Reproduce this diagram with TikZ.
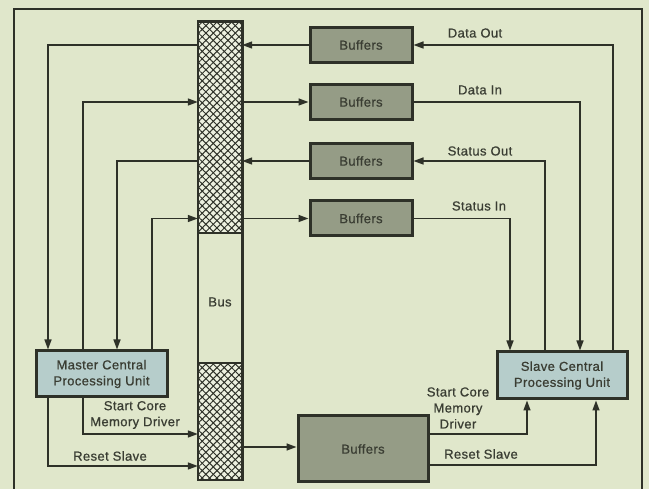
\documentclass[tikz,border=0pt]{standalone}
\usepackage{fontspec}
\setmainfont{Liberation Sans}[LetterSpace=3,FakeBold=0.8]
\usetikzlibrary{arrows.meta,patterns.meta}
\definecolor{bg}{HTML}{E0E7CB}
\definecolor{ink}{HTML}{2E3128}
\definecolor{buffill}{HTML}{959C86}
\definecolor{cpufill}{HTML}{B6CDCB}
\definecolor{busfill}{HTML}{EDF1E0}
\definecolor{txt}{HTML}{3A3D33}
\tikzset{
  txtstyle/.style={font=\fontsize{13}{16}\selectfont, text=txt, align=center, inner sep=0pt},
  bufbox/.style={draw=ink, line width=3pt, fill=buffill, minimum width=102pt, minimum height=35pt, inner sep=0pt, txtstyle},
  cpubox/.style={draw=ink, line width=3pt, fill=cpufill, inner sep=0pt, txtstyle},
  conn/.style={draw=ink, line width=1.5pt},
  arr/.style={conn, -{Triangle[length=10pt,width=7pt]}},
  hatchA/.style={pattern={Lines[angle=45,distance=5.2pt,line width=1pt]}, pattern color=ink},
  hatchB/.style={pattern={Lines[angle=-45,distance=5.2pt,line width=1pt]}, pattern color=ink},
}
\begin{document}
\begin{tikzpicture}[x=1pt,y=-1pt]
\useasboundingbox (0,0) rectangle (649,489);
\fill[bg] (0,0) rectangle (649,489);
% frame
\draw[ink, line width=1.6pt] (14,495) -- (14,9) -- (642,9) -- (642,495);
% bus
\node[minimum width=44pt, minimum height=458pt, inner sep=0pt] (bus) at (220,251) {};
\fill[busfill] (198,22) rectangle (242,233);
\fill[hatchA] (198,22) rectangle (242,233);
\fill[hatchB] (198,22) rectangle (242,233);
\fill[busfill] (198,363) rectangle (242,480);
\fill[hatchA] (198,363) rectangle (242,480);
\fill[hatchB] (198,363) rectangle (242,480);
\draw[ink, line width=2.6pt] (bus.north west) rectangle (bus.south east);
\draw[ink, line width=2.6pt] (198,233) -- (242,233) (198,363) -- (242,363);
\node[txtstyle] (buslbl) at (220,302) {Bus};
% buffers
\node[bufbox] (buf1) at (361,45) {Buffers};
\node[bufbox] (buf2) at (361,102) {Buffers};
\node[bufbox] (buf3) at (361,161) {Buffers};
\node[bufbox] (buf4) at (361,218.5) {Buffers};
\node[bufbox, minimum width=130pt, minimum height=66pt] (bufB) at (363,449) {Buffers};
% CPUs
\node[cpubox, minimum width=131pt, minimum height=46pt] (master) at (101.5,374) {Master Central\\Processing Unit};
\node[cpubox, minimum width=130pt, minimum height=47pt] (slave) at (562,375.5) {Slave Central\\Processing Unit};
% right side connectors
\draw[arr] (slave.north -| 613,0) |- (buf1.east);
\draw[arr] (buf2.east) -| (slave.north -| 580,0);
\draw[arr] (slave.north -| 545,0) |- (buf3.east);
\draw[arr] (buf4.east) -| (slave.north -| 510,0);
% left side connectors
\draw[arr] (buf1.west) -- (bus.east |- buf1.west);
\draw[arr] (bus.west |- buf1.west) -| (master.north -| 48,0);
\draw[arr] (master.north -| 83,0) |- (bus.west |- buf2.west);
\draw[arr] (bus.east |- buf2.west) -- (buf2.west);
\draw[arr] (buf3.west) -- (bus.east |- buf3.west);
\draw[arr] (bus.west |- buf3.west) -| (master.north -| 117,0);
\draw[arr] (master.north -| 152,0) |- (bus.west |- buf4.west);
\draw[arr] (bus.east |- buf4.west) -- (buf4.west);
% bottom connectors
\draw[arr] (master.south -| 83,0) |- (bus.west |- 0,434);
\draw[arr] (master.south -| 48,0) |- (bus.west |- 0,466);
\draw[arr] (bus.east |- 0,447) -- (bufB.west |- 0,447);
\draw[arr] (bufB.east |- 0,434) -| (slave.south -| 527,0);
\draw[arr] (bufB.east |- 0,465) -| (slave.south -| 596,0);
% labels
\node[txtstyle] (l1) at (475,33) {Data Out};
\node[txtstyle] (l2) at (480,90) {Data In};
\node[txtstyle] (l3) at (480,151) {Status Out};
\node[txtstyle] (l4) at (479,206) {Status In};
\node[txtstyle] (l5) at (135,415) {Start Core\\Memory Driver};
\node[txtstyle] (l6) at (110,456) {Reset Slave};
\node[txtstyle] (l7) at (458,408) {Start Core\\Memory\\Driver};
\node[txtstyle] (l8) at (481,454) {Reset Slave};
\end{tikzpicture}
\end{document}
